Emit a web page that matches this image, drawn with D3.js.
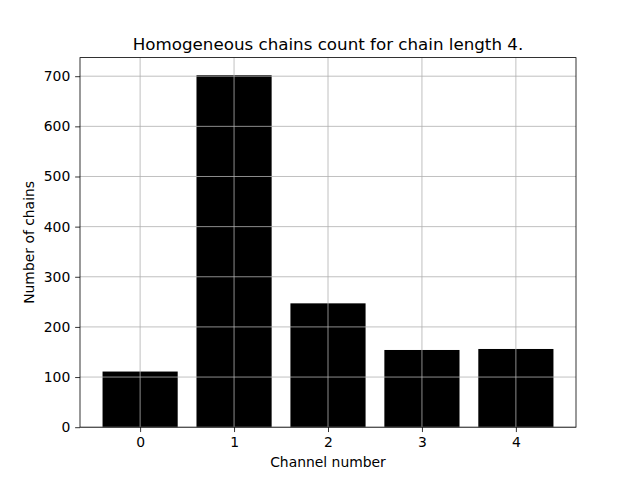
<!DOCTYPE html>
<html><head><meta charset="utf-8">
<script src="https://cdn.jsdelivr.net/npm/d3@7"></script>
<style>body{margin:0;background:#fff}text{font-family:"DejaVu Sans",sans-serif}</style>
</head><body>
<svg id="c" width="640" height="480"></svg>
<script>
const categories = [0, 1, 2, 3, 4];
const counts = [111, 702, 247, 154, 156];
const yTicks = [0, 100, 200, 300, 400, 500, 600, 700];
const titleText = "Homogeneous chains count for chain length 4.";
const xLabel = "Channel number";
const yLabel = "Number of chains";

const svg = d3.select("#c");
const L = 80, R = 576, T = 57.6, B = 427.2;
const bw = 0.8;
const x = d3.scaleLinear().domain([-0.4 - 0.24, 4.4 + 0.24]).range([L, R]);
const ymax = d3.max(counts) * 1.05;
const y = d3.scaleLinear().domain([0, ymax]).range([B, T]);

svg.append("rect").attr("width", 640).attr("height", 480).attr("fill", "#fff");

svg.append("g").selectAll("rect").data(categories).join("rect")
  .attr("x", (d) => x(d - bw / 2))
  .attr("width", (d) => x(d + bw / 2) - x(d - bw / 2))
  .attr("y", (d, i) => y(counts[i]))
  .attr("height", (d, i) => y(0) - y(counts[i]))
  .attr("fill", "#000");

// grid
const g = svg.append("g").attr("stroke", "#b0b0b0").attr("stroke-width", 0.8);
categories.forEach(c => g.append("line").attr("x1", x(c)).attr("x2", x(c)).attr("y1", T).attr("y2", B));
yTicks.forEach(t => g.append("line").attr("x1", L).attr("x2", R).attr("y1", y(t)).attr("y2", y(t)));

// axes
const xa = svg.append("g").attr("transform", `translate(0,${B})`)
  .call(d3.axisBottom(x).tickValues(categories).tickFormat(d3.format("d")).tickSizeInner(4.86).tickSizeOuter(0).tickPadding(4.9));
const ya = svg.append("g").attr("transform", `translate(${L},0)`)
  .call(d3.axisLeft(y).tickValues(yTicks).tickFormat(d3.format("d")).tickSizeInner(4.86).tickSizeOuter(0).tickPadding(4.9));
[xa, ya].forEach(a => {
  a.select(".domain").remove();
  a.selectAll("text").attr("font-size", 13.9).attr("font-family", "DejaVu Sans").attr("fill", "#000");
  a.selectAll(".tick line").attr("stroke", "#000").attr("stroke-width", 0.8);
});

svg.append("rect").attr("x", L).attr("y", T).attr("width", R - L).attr("height", B - T)
  .attr("fill", "none").attr("stroke", "#000").attr("stroke-width", 0.8);

svg.append("text").attr("x", (L + R) / 2).attr("y", 49.5).attr("text-anchor", "middle")
  .attr("font-size", 16.7).text(titleText);
svg.append("text").attr("x", (L + R) / 2).attr("y", 467).attr("text-anchor", "middle")
  .attr("font-size", 13.9).text(xLabel);
svg.append("text").attr("transform", `translate(34,${(T + B) / 2}) rotate(-90)`).attr("text-anchor", "middle")
  .attr("font-size", 13.9).text(yLabel);
</script>
</body></html>
